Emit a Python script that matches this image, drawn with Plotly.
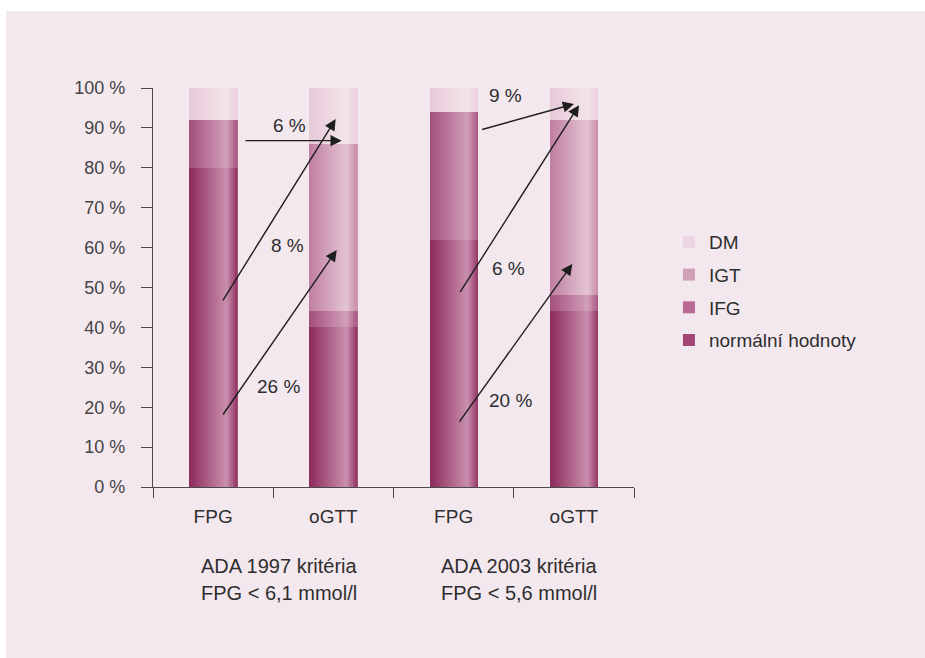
import plotly.graph_objects as go

# ---------------- data ----------------
categories = ["FPG", "oGTT", "FPG", "oGTT"]
x_pos = [0, 1, 2, 3]
series_names = ["normální hodnoty", "IFG", "IGT", "DM"]
normal = [80, 40, 62, 44]
ifg = [12, 4, 32, 4]
igt = [0, 42, 0, 44]
dm = [8, 14, 6, 8]
legend_rank = [4, 3, 2, 1]

y_tick_vals = [0, 10, 20, 30, 40, 50, 60, 70, 80, 90, 100]
y_tick_text = ["0 %", "10 %", "20 %", "30 %", "40 %", "50 %",
               "60 %", "70 %", "80 %", "90 %", "100 %"]

group_line1 = ["ADA 1997 kritéria", "ADA 2003 kritéria"]
group_line2 = ["FPG < 6,1 mmol/l", "FPG < 5,6 mmol/l"]

# arrows (tail -> head) in data units
arrow_tail_x = [0.257, 0.074, 0.074, 2.225, 2.047, 2.040]
arrow_tail_y = [86.8, 46.4, 17.8, 89.5, 48.5, 16.0]
arrow_head_x = [1.069, 1.019, 1.028, 3.001, 3.043, 2.987]
arrow_head_y = [86.8, 92.2, 59.4, 96.0, 95.7, 55.9]

label_text = ["6 %", "8 %", "26 %", "9 %", "6 %", "20 %"]
label_x = [0.633, 0.622, 0.542, 2.435, 2.455, 2.469]
label_y = [90.5, 60.5, 25.3, 98.2, 54.8, 21.6]

# ---------------- styling ----------------
BG = "#f4e8ef"
TEXT = "#2e2e2e"
FONT = "Liberation Sans, Arial, sans-serif"

# gradient key colours per series: left, highlight, right
grad = {
    "normální hodnoty": ("#8c2a5b", "#c98fae", "#933464"),
    "IFG": ("#a34f7c", "#d2a0ba", "#a85683"),
    "IGT": ("#c07ea0", "#e3c4d4", "#c68ca9"),
    "DM": ("#e6c9d7", "#f3e4eb", "#e9cfdc"),
}
legend_col = {
    "normální hodnoty": "#a44673",
    "IFG": "#b96a93",
    "IGT": "#d09fb8",
    "DM": "#ecd6e1",
}


def hex2rgb(h):
    h = h.lstrip("#")
    return [int(h[i:i + 2], 16) for i in (0, 2, 4)]


def mix(c1, c2, t):
    a, b = hex2rgb(c1), hex2rgb(c2)
    return "rgb(%d,%d,%d)" % tuple(round(a[i] + (b[i] - a[i]) * t) for i in range(3))


def grad_color(keys, f):
    left, light, right = keys
    p = 0.78
    if f <= p:
        return mix(left, light, f / p)
    return mix(light, right, (f - p) / (1 - p))


fig = go.Figure()

BW = 0.40
N = 24
values = [normal, ifg, igt, dm]
bases = []
acc = [0, 0, 0, 0]
for v in values:
    bases.append(list(acc))
    acc = [acc[i] + v[i] for i in range(4)]

for name, vals, base, rank in zip(series_names, values, bases, legend_rank):
    for i in range(N):
        f = (i + 0.5) / N
        w = BW / N
        wid = w * 2.2 if i < N - 1 else w
        fig.add_trace(go.Bar(
            x=x_pos, y=vals, base=base,
            width=wid, offset=-BW / 2 + i * w,
            marker=dict(color=grad_color(grad[name], f), line=dict(width=0)),
            showlegend=False, hoverinfo="skip",
        ))
    # legend-only entry
    fig.add_trace(go.Bar(
        x=[None], y=[None], name=name, legendgroup=name, legendrank=rank,
        marker=dict(color=legend_col[name], line=dict(width=0)),
        showlegend=True,
    ))

annotations = []
for tx, ty, hx, hy in zip(arrow_tail_x, arrow_tail_y, arrow_head_x, arrow_head_y):
    annotations.append(dict(
        x=hx, y=hy, ax=tx, ay=ty, xref="x", yref="y", axref="x", ayref="y",
        text="", showarrow=True, arrowhead=2, arrowsize=1.6, arrowwidth=1.4,
        arrowcolor="#1e1e1e", standoff=0, startstandoff=0,
    ))
for t, lx, ly in zip(label_text, label_x, label_y):
    annotations.append(dict(
        x=lx, y=ly, xref="x", yref="y", text=t, showarrow=False,
        font=dict(family=FONT, size=19, color=TEXT),
        xanchor="center", yanchor="middle",
    ))
group_left = [-0.115, 1.882]
for gx, l1, l2 in zip(group_left, group_line1, group_line2):
    annotations.append(dict(
        x=gx, y=-0.198, xref="x", yref="paper", text=l1, showarrow=False,
        font=dict(family=FONT, size=20, color=TEXT), xanchor="left", yanchor="middle",
    ))
    annotations.append(dict(
        x=gx, y=-0.266, xref="x", yref="paper", text=l2, showarrow=False,
        font=dict(family=FONT, size=20, color=TEXT), xanchor="left", yanchor="middle",
    ))

# page frame: white strip at top/left, pink panel elsewhere
L, R, T, B = 153, 291, 88, 171
W, H = 925, 658
PW, PH = W - L - R, H - T - B


def px_x(px):
    return (px - L) / PW


def px_y(py):
    return (H - B - py) / PH


shapes = [dict(
    type="rect", xref="paper", yref="paper", layer="below",
    x0=px_x(6), x1=px_x(W + 5), y0=px_y(H + 5), y1=px_y(11),
    fillcolor=BG, line=dict(width=0),
)]

fig.update_layout(
    width=W, height=H,
    margin=dict(l=L, r=R, t=T, b=B),
    paper_bgcolor="white", plot_bgcolor=BG,
    barmode="overlay", bargap=0,
    font=dict(family=FONT, size=19, color=TEXT),
    showlegend=True,
    legend=dict(
        xref="container", yref="container",
        x=0.7232, y=0.661, xanchor="left", yanchor="top",
        traceorder="grouped", tracegroupgap=5,
        font=dict(family=FONT, size=19, color=TEXT),
        bgcolor="rgba(0,0,0,0)",
    ),
    annotations=annotations,
    shapes=shapes,
)

fig.update_xaxes(
    range=[-0.5, 3.5], tickmode="array", tickvals=x_pos, ticktext=categories,
    ticks="outside", ticklen=12, tickcolor="rgba(0,0,0,0)",
    showline=True, linecolor="#4a4a4a", linewidth=1.4,
    showgrid=False, zeroline=False,
    tickfont=dict(family=FONT, size=19, color=TEXT),
    minor=dict(tickmode="array", tickvals=[-0.5, 0.5, 1.5, 2.5, 3.5],
               ticks="outside", ticklen=10, tickwidth=1.4, tickcolor="#4a4a4a",
               showgrid=False),
)
fig.update_yaxes(
    range=[0, 100], tickmode="array", tickvals=y_tick_vals, ticktext=y_tick_text,
    ticks="outside", ticklen=11, tickwidth=1.4, tickcolor="#4a4a4a",
    ticklabelstandoff=12,
    showline=True, linecolor="#4a4a4a", linewidth=1.4,
    showgrid=False, zeroline=False,
    tickfont=dict(family=FONT, size=18, color="#444444"),
)

fig.write_html(
    "out.html",
    config={"displayModeBar": False},
    post_script="document.body.style.margin='0';document.body.style.overflow='hidden';",
)
